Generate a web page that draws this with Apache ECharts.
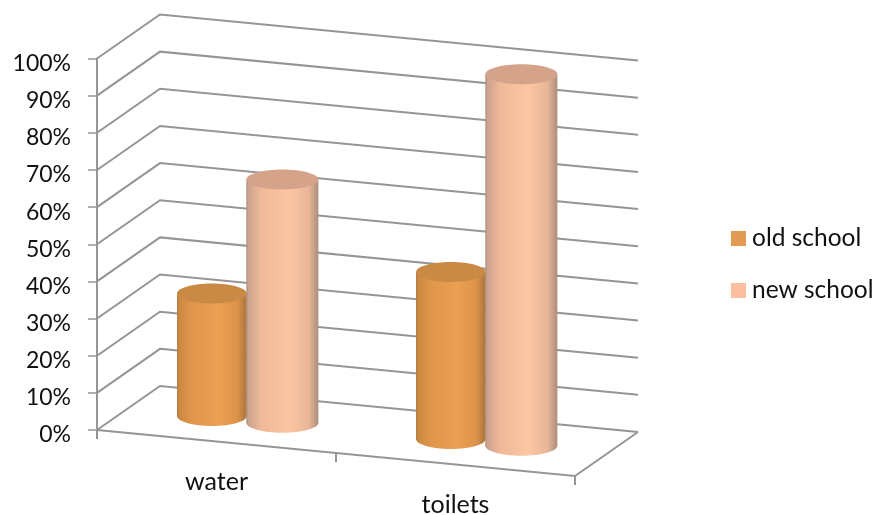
<!DOCTYPE html>
<html><head><meta charset="utf-8">
<style>html,body{margin:0;padding:0;background:#fff}#c{width:877px;height:515px}</style>
<script src="https://cdn.jsdelivr.net/npm/echarts@6/dist/echarts.min.js"></script>
</head><body><div id="c"></div>
<script>
const categories = ['water', 'toilets'];
const oldSchool = [33, 45];
const newSchool = [65.5, 100];
const tickValues = [0, 10, 20, 30, 40, 50, 60, 70, 80, 90, 100];
const FONT = 'Lato';

// oblique projection of the Excel-style 3D box
const X0 = 97, X1 = 575, FLOOR_SLOPE = 46 / 478, BACK_DX = 63, BACK_DY = -44;
const floorDrop = x => (x - X0) * FLOOR_SLOPE;
const DEPTH_DY = -25, DEPTH_DX = 30.6, RY = 10, HALF_GAP = 35.25;
const LINE = '#959595';

function gradient(stops) {
  return { type: 'linear', x: 0, y: 0, x2: 1, y2: 0,
    colorStops: stops.map(s => ({ offset: s[0], color: s[1] })) };
}
const oldBody = gradient([[0,'#ad763d'],[0.03,'#cc8842'],[0.2,'#df964b'],[0.6,'#eba053'],[0.87,'#dc9249'],[1,'#a8743f']]);
const newBody = gradient([[0,'#ad8b77'],[0.03,'#cca38c'],[0.2,'#efb999'],[0.6,'#fcc6a3'],[0.87,'#e8b597'],[1,'#ab8d7b']]);

function cylinder(dir, RX, body, top) {
  return function (params, api) {
    const c = api.coord([api.value(0), 0]);
    const v = api.coord([api.value(0), api.value(1)]);
    const cx = c[0] + DEPTH_DX + dir * HALF_GAP;
    const drop = floorDrop(cx) + DEPTH_DY;
    const yBase = c[1] + drop, yTop = v[1] + drop;
    return { type: 'group', children: [
      { type: 'ellipse', shape: { cx: cx, cy: yBase, rx: RX, ry: RY }, style: { fill: body } },
      { type: 'rect', shape: { x: cx - RX, y: yTop, width: RX * 2, height: yBase - yTop }, style: { fill: body } },
      { type: 'ellipse', shape: { cx: cx, cy: yTop, rx: RX, ry: RY }, style: { fill: top } }
    ] };
  };
}

const chart = echarts.init(document.getElementById('c'), null, { renderer: 'canvas' });
chart.setOption({
  animation: false,
  backgroundColor: '#fff',
  grid: { left: X0, top: 58.5, width: X1 - X0, height: 371.5 },
  legend: {
    data: ['old school', 'new school'], orient: 'vertical', left: 726, top: 221,
    itemWidth: 15, itemHeight: 15, itemGap: 27, icon: 'rect',
    textStyle: { fontFamily: FONT, fontSize: 24.5, color: '#111', padding: [0,0,0,1] }
  },
  xAxis: { type: 'category', data: categories, show: false },
  yAxis: {
    type: 'value', min: 0, max: 100, interval: 10,
    axisLine: { show: true, lineStyle: { color: LINE, width: 2 } },
    axisTick: { show: true, length: 9, lineStyle: { color: LINE, width: 1.5 } },
    splitLine: { show: false },
    axisLabel: { formatter: '{value}%', margin: 26, fontFamily: FONT, fontSize: 23, color: '#111', verticalAlign: 'top', lineHeight: 10 }
  },
  series: [
    { type: 'custom', name: 'walls', silent: true, z: 1, clip: false,
      data: tickValues.map(t => [0, t]),
      renderItem(p, api) {
        const y = api.coord([0, api.value(1)])[1];
        const bx = X0 + BACK_DX, by = y + BACK_DY;
        return { type: 'polyline',
          shape: { points: [[X0, y], [bx, by], [bx + (X1 - X0), by + (X1 - X0) * FLOOR_SLOPE]] },
          style: { fill: 'none', stroke: LINE, lineWidth: 2 } };
      } },
    { type: 'custom', name: 'floor', silent: true, z: 1, clip: false,
      data: [[0, 0]],
      renderItem(p, api) {
        const y = api.coord([0, 0])[1];
        const ye = y + floorDrop(X1);
        const xm = (X0 + X1) / 2, ym = y + floorDrop(xm);
        const s = { fill: 'none', stroke: LINE, lineWidth: 2 };
        return { type: 'group', children: [
          { type: 'polyline', shape: { points: [[X0, y], [X1, ye], [X1 + BACK_DX, ye + BACK_DY]] }, style: s },
          { type: 'line', shape: { x1: X0, y1: y, x2: X0, y2: y + 9 }, style: { stroke: LINE, lineWidth: 2 } },
          { type: 'line', shape: { x1: xm, y1: ym, x2: xm, y2: ym + 9 }, style: s },
          { type: 'line', shape: { x1: X1, y1: ye, x2: X1, y2: ye + 9 }, style: s }
        ] };
      } },
    { type: 'custom', name: 'old school', z: 3, clip: false,
      itemStyle: { color: '#e39a53' },
      data: oldSchool.map((v, i) => [i, v]),
      renderItem: cylinder(-1, 34.8, oldBody, '#c98a45') },
    { type: 'custom', name: 'new school', z: 3, clip: false,
      itemStyle: { color: '#fbbf9f' },
      data: newSchool.map((v, i) => [i, v]),
      renderItem: cylinder(1, 36, newBody, '#d4a389') },
    { type: 'custom', name: 'labels', silent: true, z: 4, clip: false,
      data: categories.map((c, i) => [i, 0]),
      renderItem(p, api) {
        const c = api.coord([api.value(0), 0]);
        return { type: 'text', x: c[0], y: c[1] + floorDrop(c[0]) + 40,
          style: { text: categories[api.value(0)], fontFamily: FONT, fontSize: 25, fill: '#111', align: 'center', verticalAlign: 'middle' } };
      } }
  ]
});
</script></body></html>
